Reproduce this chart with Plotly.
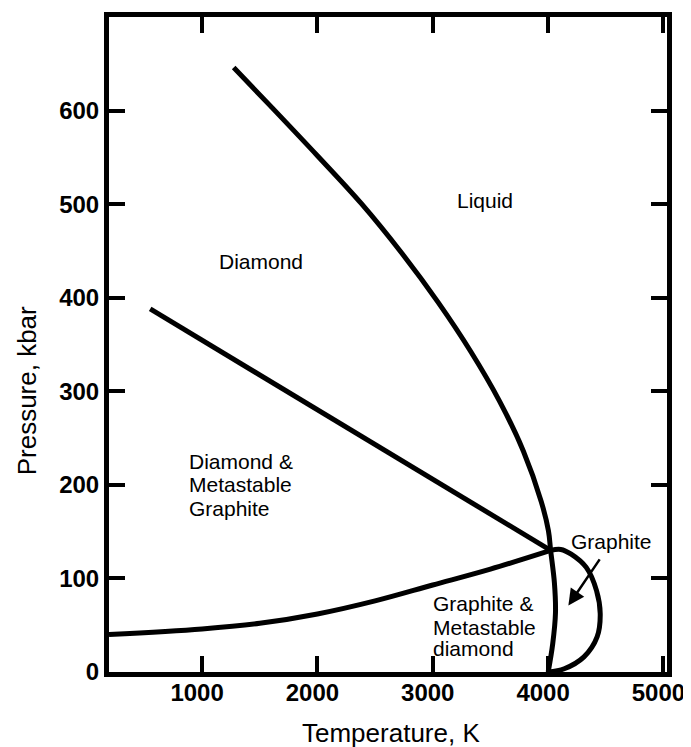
import plotly.graph_objects as go

# Diamond / liquid melting curve (continues below triple point to 4000 K, 0 kbar)
melt_T = [1274, 1592, 1998, 2378, 2729, 3047, 3332, 3581, 3786, 3941, 4003, 4022, 4055, 4064, 4040, 4001]
melt_P = [646, 605, 552, 501, 448, 395, 342, 289, 236, 182, 151, 130, 95, 63, 30, 0]

# Diamond / (diamond & metastable graphite) boundary
dmg_T = [550, 4022]
dmg_P = [388, 130]

# Graphite / diamond equilibrium line
gd_T = [193, 1000, 1500, 2000, 2500, 3000, 3500, 4022]
gd_P = [40, 46, 52, 62, 76, 93, 110, 130]

# Graphite melting curve
gm_T = [4022, 4110, 4200, 4331, 4420, 4452, 4425, 4311, 4140, 4001]
gm_P = [130, 131, 126, 111.8, 87, 62.3, 37.5, 16.2, 3.5, 0]

x_ticks = [1000, 2000, 3000, 4000, 5000]
y_ticks = [0, 100, 200, 300, 400, 500, 600]

# (text, T, P, anchor)
labels = [
    ("Liquid", 3457, 504, "center"),
    ("Diamond", 1512, 439, "center"),
    ("Diamond &", 867, 225, "left"),
    ("Metastable", 867, 200, "left"),
    ("Graphite", 867, 175, "left"),
    ("Graphite", 4552, 140, "center"),
    ("Graphite &", 2982, 73, "left"),
    ("Metastable", 2982, 48, "left"),
    ("diamond", 2982, 25, "left"),
]

FONT = "Liberation Sans, Arial, Helvetica"
fig = go.Figure()
for T, P, shape in [(melt_T, melt_P, "spline"), (dmg_T, dmg_P, "linear"),
                    (gd_T, gd_P, "spline"), (gm_T, gm_P, "spline")]:
    fig.add_trace(go.Scatter(x=T, y=P, mode="lines",
                             line=dict(color="black", width=5, shape=shape),
                             showlegend=False, hoverinfo="skip"))

for text, tx, ty, al in labels:
    fig.add_annotation(x=tx, y=ty, xref="x", yref="y", text=text, showarrow=False,
                       xanchor=al, yanchor="middle", align=al,
                       font=dict(family=FONT, size=21, color="black"))

# arrow from "Graphite" label into the graphite field
fig.add_annotation(x=4176, y=71, ax=4456, ay=122, xref="x", yref="y",
                   axref="x", ayref="y", text="", showarrow=True,
                   arrowhead=2, arrowsize=1.3, arrowwidth=2.5, arrowcolor="black")

fig.add_annotation(x=0.505, y=-0.093, xref="paper", yref="paper",
                   text="Temperature, K", showarrow=False, xanchor="center", yanchor="middle",
                   font=dict(family=FONT, size=26, color="black"))
fig.add_annotation(x=-0.147, y=0.43, xref="paper", yref="paper",
                   text="Pressure, kbar", showarrow=False, textangle=-90,
                   xanchor="center", yanchor="middle",
                   font=dict(family=FONT, size=26, color="black"))

axis_common = dict(showline=True, linecolor="black", linewidth=5, mirror="ticks",
                   ticks="inside", ticklen=16, tickwidth=4, tickcolor="black",
                   showgrid=False, zeroline=False,
                   tickfont=dict(family=FONT, size=24, color="black", weight=700))

fig.update_xaxes(range=[193, 5031], tickvals=x_ticks, ticktext=[str(v) for v in x_ticks],
                 ticklabelstandoff=-5, ticklabelshift=-5, **axis_common)
fig.update_yaxes(range=[0, 700], tickvals=y_ticks, ticktext=[str(v) for v in y_ticks],
                 **axis_common)

fig.update_layout(width=683, height=739, margin=dict(l=101, r=24, t=4, b=75),
                  plot_bgcolor="white", paper_bgcolor="white")

fig.write_html("out.html", config={"displayModeBar": False, "responsive": False})
